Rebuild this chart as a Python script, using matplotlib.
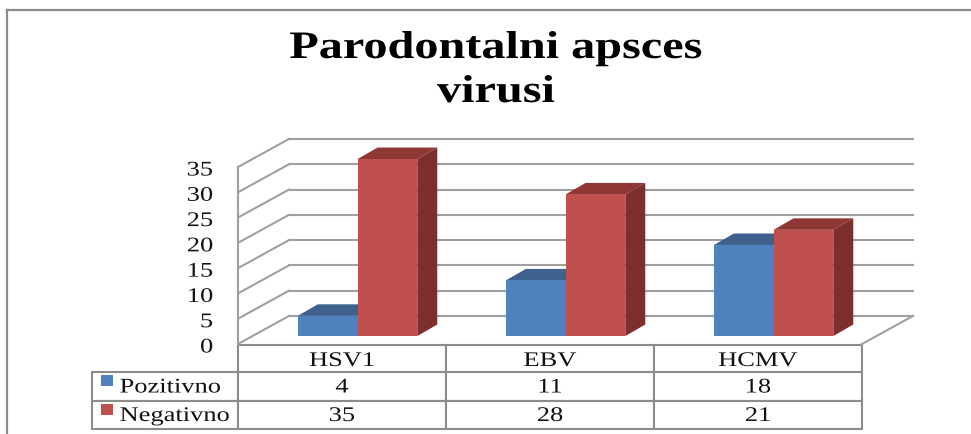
import matplotlib
matplotlib.use("Agg")
import matplotlib.pyplot as plt
from matplotlib.patches import Polygon, Rectangle
from matplotlib.lines import Line2D
from matplotlib.patheffects import AbstractPathEffect
from matplotlib.transforms import Affine2D

categories = ["HSV1", "EBV", "HCMV"]
series_names = ["Pozitivno", "Negativno"]
pozitivno = [4, 11, 18]
negativno = [35, 28, 21]
y_ticks = [0, 5, 10, 15, 20, 25, 30, 35]
title = "Parodontalni apsces\nvirusi"

BLUE, BLUE_TOP = "#4F81BD", "#3E618D"
RED, RED_TOP, RED_SIDE = "#C0504D", "#8E3735", "#7B2F2E"
GRID = "#A0A0A0"
LINE = "#8C8C8C"

W, H = 971, 434

plt.rcParams["font.family"] = ["Liberation Serif", "DejaVu Serif"]


class StretchX(AbstractPathEffect):
    # the source picture is stretched sideways, so the text is too
    def __init__(self, sx, anchor="center", dy=0):
        super().__init__()
        self.sx = sx
        self.anchor = anchor
        self.dy = dy

    def draw_path(self, renderer, gc, tpath, affine, rgbFace=None):
        ext = tpath.get_extents(affine)
        x0 = {"left": ext.x0, "center": (ext.x0 + ext.x1) / 2, "right": ext.x1}[self.anchor]
        stretched = affine + Affine2D().translate(-x0, 0).scale(self.sx, 1).translate(x0, self.dy)
        renderer.draw_path(gc, tpath, stretched, rgbFace)


def fx(px):
    return px / W


def fy(py):
    return 1 - py / H


fig = plt.figure(figsize=(W / 100, H / 100), dpi=100)

# front wall of the 3d box, the plot area in value units
ax = fig.add_axes([fx(238), fy(344), (862 - 238) / W, (344 - 167) / H])
ax.set_xlim(0, 3)
ax.set_ylim(0, 35)
for s in ax.spines.values():
    s.set_visible(False)
ax.set_xticks([])
ax.set_yticks(y_ticks)
ax.tick_params(axis="y", length=0, pad=18, labelsize=15, labelcolor="#111111")
for t in ax.get_yticklabels():
    t.set_path_effects([StretchX(1.27, "right", dy=-1.5)])

# depth of the box and the bars
box_dx, box_dy = 0.245, 5.54
bar_w = 0.287
bar_start = 0.288
bar_dx, bar_dy = 0.096, 2.27
base = 1.58

# walls and gridlines
for v in y_ticks:
    ax.plot([0, box_dx], [v, v + box_dy], color=GRID, lw=1.5, clip_on=False)
    ax.plot([box_dx, 3 + box_dx], [v + box_dy, v + box_dy], color=GRID, lw=1.5, clip_on=False)
ax.plot([0, 0], [0, 35], color=GRID, lw=1.5, clip_on=False)
ax.plot([3, 3 + box_dx], [0, box_dy], color=GRID, lw=1.5, clip_on=False)


def bar3d(x, v, front, top, side, z):
    y0 = base
    y1 = base + v
    ax.add_patch(Polygon([(x, y1), (x + bar_dx, y1 + bar_dy), (x + bar_w + bar_dx, y1 + bar_dy), (x + bar_w, y1)],
                         fc=top, ec="none", zorder=z, clip_on=False))
    ax.add_patch(Polygon([(x + bar_w, y0), (x + bar_w + bar_dx, y0 + bar_dy), (x + bar_w + bar_dx, y1 + bar_dy), (x + bar_w, y1)],
                         fc=side, ec="none", zorder=z, clip_on=False))
    ax.add_patch(Rectangle((x, y0), bar_w, v, fc=front, ec="none", zorder=z + 0.1, clip_on=False))


for i in range(len(categories)):
    x = i + bar_start
    bar3d(x, pozitivno[i], BLUE, BLUE_TOP, BLUE_TOP, 3)
    bar3d(x + bar_w, negativno[i], RED, RED_TOP, RED_SIDE, 4)

# data table under the chart, series names kept in a normal first column
# so the bbox covers them and their width stays fixed
rows = [[""] + categories,
        [series_names[0]] + [str(v) for v in pozitivno],
        [series_names[1]] + [str(v) for v in negativno]]
tb_bbox = [(92 - 238) / 624, (344 - 429) / 177, (862 - 92) / 624, (429 - 345) / 177]
tb = ax.table(cellText=rows, colWidths=[146 / 770] + [208 / 770] * 3, cellLoc="center", bbox=tb_bbox)
tb.auto_set_font_size(False)
tb.set_fontsize(15)
row_h = [27, 29, 28]
for (r, c), cell in tb.get_celld().items():
    cell.set_edgecolor(LINE)
    cell.set_linewidth(1.5)
    cell.set_height(row_h[r])
    cell.get_text().set_color("#111111")
    dy = -3 if r == 0 else -1.5
    if c == 0:
        cell.PAD = 0.19
        cell.get_text().set_ha("left")
        cell.get_text().set_path_effects([StretchX(1.27, "left", dy=dy)])
    else:
        cell.get_text().set_path_effects([StretchX(1.27, "center", dy=dy)])
tb.get_celld()[(0, 0)].visible_edges = ""

# legend keys inside the table
for py, col in [(386, BLUE), (415, RED)]:
    fig.add_artist(Rectangle((fx(101), fy(py)), 12 / W, 11 / H, fc=col, ec="none",
                             transform=fig.transFigure, zorder=5))

# chart frame, only top and left are in the crop
fig.add_artist(Line2D([fx(7), fx(7)], [fy(10), 0], color="#8C8C8C", lw=1.6))
fig.add_artist(Line2D([fx(7), 1], [fy(10), fy(10)], color="#8C8C8C", lw=1.6))

fig.text(fx(496), fy(70.5), title, ha="center", va="center", fontsize=28, fontweight="bold",
         color="black", linespacing=1.25, path_effects=[StretchX(1.24, "center")])

fig.savefig("out.png", dpi=100)
